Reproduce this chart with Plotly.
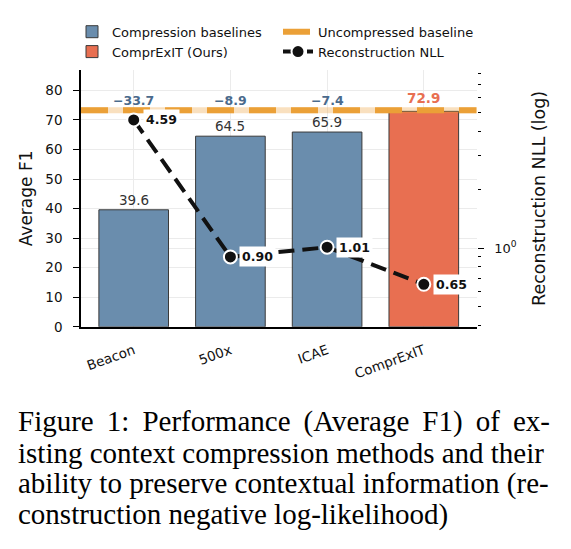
import numpy as np
import plotly.graph_objects as go

# ---------------- data ----------------
categories = ["Beacon", "500x", "ICAE", "ComprExIT"]
avg_f1 = [39.6, 64.5, 65.9, 72.9]
recon_nll = [4.59, 0.90, 1.01, 0.65]
uncompressed_f1 = 73.3
delta_labels = ["\u221233.7", "\u22128.9", "\u22127.4"]   # gap to uncompressed baseline
baseline_idx = [0, 1, 2]          # compression baselines
ours_idx = [3]                    # ComprExIT (Ours)
f1_ticks = [0, 10, 20, 30, 40, 50, 60, 70, 80]
nll_major_ticks = [1]
nll_major_labels = ["10<sup>0</sup>"]
nll_minor_ticks = [0.4, 0.5, 0.6, 0.7, 0.8, 0.9, 2, 3, 4, 5, 6, 7, 8]
T = "\u2009"  # thin space, used to approximate the justified caption
caption_lines = [
    f"Figure {T}1: {T}Performance {T}(Average {T}F1) {T}of {T}ex-",
    "isting context compression methods and their",
    "ability to preserve contextual information (re-",
    "construction negative log-likelihood)",
]

# ---------------- style ----------------
W, H = 571, 549
BLUE = "#6A8DAD"
RED = "#E86F51"
ORANGE = "#EBA037"
PALE = "rgba(235,160,55,0.32)"
DELTA_C = "#4A6A8C"
GRID = "#EBEBEB"
SANS = "DejaVu Sans"
SERIF = "Liberation Serif"

x_left, x_right = 81, 476.7
y_top, y_bot = 71, 331.7
xr = [-0.545, 3.547]
yr = [0, 86.9]
y2r = [-0.407, 0.920]

fig = go.Figure()

fig.add_trace(go.Bar(
    x=baseline_idx, y=[avg_f1[i] for i in baseline_idx],
    width=0.72, marker=dict(color=BLUE, line=dict(color="#3A3A3A", width=1)),
    name="Compression baselines", legend="legend",
))
fig.add_trace(go.Bar(
    x=ours_idx, y=[avg_f1[i] for i in ours_idx],
    width=0.72, marker=dict(color=RED, line=dict(color="#3A3A3A", width=1)),
    name="ComprExIT (Ours)", legend="legend",
))
# uncompressed baseline: pale underlay + dashed line
fig.add_trace(go.Scatter(
    x=xr, y=[uncompressed_f1, uncompressed_f1], mode="lines",
    line=dict(color=PALE, width=6), showlegend=False, hoverinfo="skip",
))
fig.add_trace(go.Scatter(
    x=xr, y=[uncompressed_f1, uncompressed_f1], mode="lines",
    line=dict(color=ORANGE, width=6, dash="27px,15px"),
    name="Uncompressed baseline", legend="legend2",
))
# reconstruction NLL on log axis
fig.add_trace(go.Scatter(
    x=list(range(len(categories))), y=recon_nll, yaxis="y2",
    mode="lines+markers",
    line=dict(color="#111111", width=4, dash="16px,8px"),
    marker=dict(size=13, color="#111111", line=dict(color="white", width=2)),
    name="Reconstruction NLL", legend="legend2",
))

ann = []
# bar value labels (baselines)
for i in baseline_idx:
    ann.append(dict(x=i, y=avg_f1[i], xref="x", yref="y", text=f"{avg_f1[i]:.1f}",
                    showarrow=False, yanchor="bottom", yshift=0,
                    font=dict(family=SANS, size=13.5, color="#333333")))
# delta labels above baseline line
for i, lab in zip(baseline_idx, delta_labels):
    ann.append(dict(x=i, y=uncompressed_f1, xref="x", yref="y", text=f"<b>{lab}</b>",
                    showarrow=False, yanchor="bottom", yshift=0,
                    font=dict(family=SANS, size=12.5, color=DELTA_C)))
for i in ours_idx:
    ann.append(dict(x=i, y=uncompressed_f1, xref="x", yref="y", text=f"<b>{avg_f1[i]:.1f}</b>",
                    showarrow=False, yanchor="bottom", yshift=2,
                    font=dict(family=SANS, size=13.5, color=RED)))
# NLL labels
for i, v in enumerate(recon_nll):
    ann.append(dict(x=i, y=float(np.log10(v)), xref="x", yref="y2", text=f"<b>{v:.2f}</b>",
                    showarrow=False, xanchor="left", xshift=9, bgcolor="white",
                    borderpad=2, font=dict(family=SANS, size=12.5, color="#111111")))
# caption
baselines_px = [430.5, 462, 493.5, 525]
for line, b in zip(caption_lines, baselines_px):
    ann.append(dict(x=16 / W, y=1 - (b + 16) / H, xref="paper", yref="paper",
                    xanchor="left", yanchor="bottom", text=line, showarrow=False,
                    font=dict(family=SERIF, size=29, color="black")))

fig.update_layout(
    width=W, height=H,
    margin=dict(l=0, r=0, t=0, b=0),
    paper_bgcolor="white", plot_bgcolor="white",
    barmode="overlay",
    font=dict(family=SANS, size=13, color="#111111"),
    xaxis=dict(
        domain=[x_left / W, x_right / W], range=xr,
        tickmode="array", tickvals=list(range(len(categories))), ticktext=categories,
        tickangle=-20, ticks="", ticklabelstandoff=9,
        showline=True, linecolor="black", linewidth=1.5,
        showgrid=True, gridcolor=GRID, gridwidth=1, zeroline=False,
        tickfont=dict(family=SANS, size=13.5, color="#111111"),
    ),
    yaxis=dict(
        domain=[1 - y_bot / H, 1 - y_top / H], range=yr,
        tickmode="array", tickvals=f1_ticks,
        ticks="outside", ticklen=6, tickwidth=1, tickcolor="black", ticklabelstandoff=8,
        showline=True, linecolor="black", linewidth=1.5,
        showgrid=True, gridcolor=GRID, gridwidth=1, zeroline=False,
        tickfont=dict(family=SANS, size=13.5, color="#111111"),
        title=dict(text="Average F1", standoff=8, font=dict(family=SANS, size=17, color="#111111")),
    ),
    yaxis2=dict(
        overlaying="y", side="right", type="log", range=y2r,
        anchor="x",
        tickmode="array", tickvals=nll_major_ticks, ticktext=nll_major_labels,
        ticks="outside", ticklen=6, tickwidth=1, tickcolor="black", ticklabelstandoff=8,
        minor=dict(tickmode="array", tickvals=nll_minor_ticks, ticks="outside",
                   ticklen=3.5, tickwidth=1, tickcolor="black", showgrid=False),
        showline=False, showgrid=True, gridcolor=GRID, gridwidth=1, zeroline=False,
        tickfont=dict(family=SANS, size=13, color="#111111"),
        title=dict(text="Reconstruction NLL (log)", standoff=16,
                   font=dict(family=SANS, size=17.5, color="#111111")),
    ),
    legend=dict(x=72 / W, y=1 - 17 / H, xanchor="left", yanchor="top",
                orientation="v", bgcolor="rgba(0,0,0,0)", tracegroupgap=0,
                font=dict(family=SANS, size=13, color="#111111"), itemwidth=30),
    legend2=dict(x=278 / W, y=1 - 17 / H, xanchor="left", yanchor="top",
                 orientation="v", bgcolor="rgba(0,0,0,0)", tracegroupgap=0,
                 font=dict(family=SANS, size=13, color="#111111"), itemwidth=30),
    annotations=ann,
    showlegend=True,
)

fig.write_html("out.html")
